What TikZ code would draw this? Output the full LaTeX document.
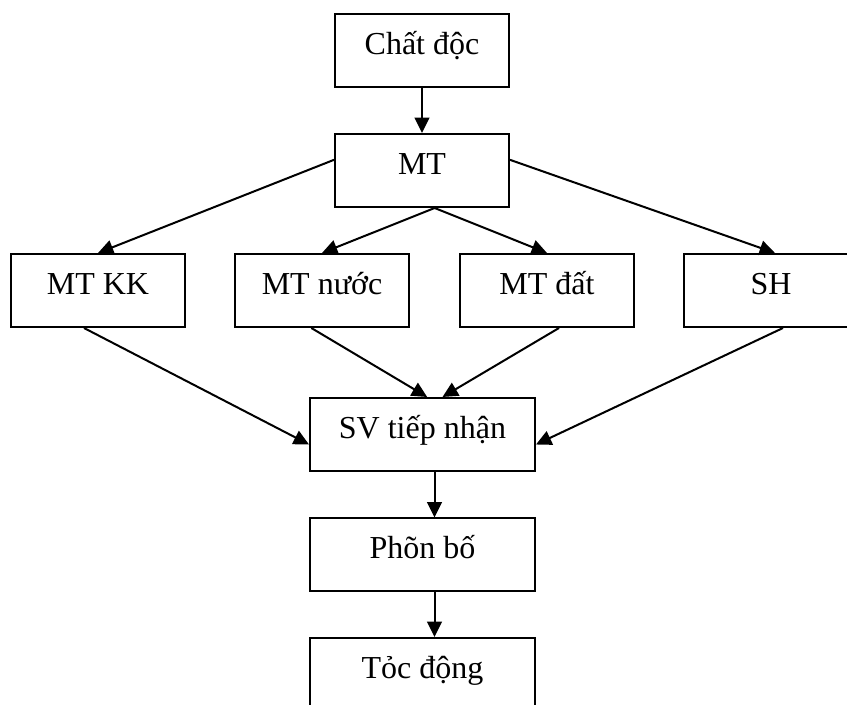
\documentclass[tikz,border=0pt]{standalone}
\usepackage{fontspec}
\setmainfont{Liberation Serif}
\usetikzlibrary{arrows.meta}

\begin{document}
\begin{tikzpicture}[
                x=0.75pt, y=-0.75pt,
                line width=1.5pt,
                >={Triangle[length=11.5pt,width=11pt]},
                every node/.style={rectangle,draw,inner sep=0pt,minimum height=54.75pt,
                        font=\fontsize{24}{28}\selectfont,text height=17pt,text depth=11.5pt},
                smallbox/.style={minimum width=130.5pt},
                widebox/.style={minimum width=168.75pt}
            ]
            \useasboundingbox (0,0) rectangle (847,705);
            \clip (0,0) rectangle (847,705);

            % top of the chain
            \node[smallbox] (chatdoc) at (422,50.5) {Chất độc};
            \node[smallbox] (mt) at (422,170.5) {MT};

            % the four media
            \node[smallbox] (mtkk) at (98,290.5) {MT KK};
            \node[smallbox] (mtnuoc) at (322,290.5) {MT nước};
            \node[smallbox] (mtdat) at (547,290.5) {MT đất};
            \node[smallbox] (sh) at (771,290.5) {SH};

            % bottom of the chain
            \node[widebox] (svtn) at (422.5,434.5) {SV tiếp nhận};
            \node[widebox] (phanbo) at (422.5,555) {Phõn bố};
            \node[widebox] (tacdong) at (422.5,674.5) {Tỏc động};

            \draw[->] (chatdoc) -- (mt);
            \draw[->] ([yshift=8pt]mt.west) -- (mtkk.north);
            \draw[->] ([xshift=9.5pt]mt.south) -- (mtnuoc.north);
            \draw[->] ([xshift=9.5pt]mt.south) -- (mtdat.north);
            \draw[->] ([yshift=8pt]mt.east) -- ([xshift=3pt]sh.north);

            \draw[->] ([xshift=-10.5pt]mtkk.south) -- ([yshift=-7.5pt]svtn.west);
            \draw[->] ([xshift=-8pt]mtnuoc.south) -- ([xshift=3.5pt]svtn.north);
            \draw[->] ([xshift=9pt]mtdat.south) -- ([xshift=15pt]svtn.north);
            \draw[->] ([xshift=9pt]sh.south) -- ([yshift=-7.5pt]svtn.east);

            \draw[->] ([xshift=9pt]svtn.south) -- ([xshift=9pt]phanbo.north);
            \draw[->] ([xshift=9pt]phanbo.south) -- ([xshift=9pt]tacdong.north);

        \end{tikzpicture}
\end{document}
